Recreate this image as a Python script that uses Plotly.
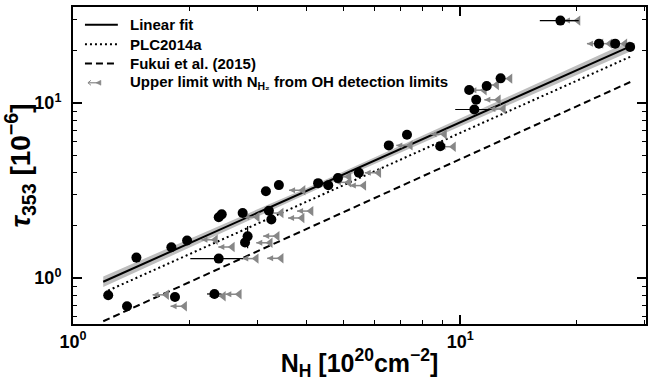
import plotly.graph_objects as go

# --- detections: N_H [1e20 cm^-2] vs tau_353 [1e-6] ---
nh_det = [1.233, 1.379, 1.458, 1.795, 1.971, 1.834, 2.319, 2.379, 2.782, 2.825,
          2.379, 2.422, 2.743, 3.150, 3.402, 3.206, 3.253, 4.296, 4.564, 4.834,
          5.475, 6.541, 7.289, 8.882, 10.88, 11.00, 10.55, 11.71, 12.72, 18.15,
          22.83, 25.14, 27.48]
tau_det = [0.798, 0.691, 1.310, 1.502, 1.641, 0.781, 0.812, 1.293, 1.599, 1.733,
           2.226, 2.314, 2.354, 3.135, 3.400, 2.426, 2.163, 3.489, 3.391, 3.729,
           4.001, 5.733, 6.592, 5.674, 9.19, 10.44, 11.89, 12.53, 13.85, 29.6,
           21.86, 21.86, 20.94]
nh_err = [0, 0, 0.03, 0, 0, 0, 0.10, 0.37, 0, 0,
          0, 0, 0, 0, 0, 0, 0, 0, 0, 0,
          0, 0, 0, 0, 1.17, 0, 0, 0, 0, 2.09,
          0, 0, 0]
tau_err = [0, 0, 0.08, 0, 0, 0, 0, 0, 0, 0.25,
           0, 0, 0, 0, 0, 0, 0, 0, 0, 0,
           0, 0, 0, 0, 0, 0, 0, 0, 0, 0,
           0, 0, 0]

# --- upper limits (N_H2 from OH detection limits) ---
nh_lim = [1.745, 1.942, 2.446, 2.689, 2.974, 3.449, 2.580, 3.232, 3.368, 2.333,
          2.992, 3.449, 3.906, 4.120, 3.929, 5.160, 5.160, 5.639, 6.164, 7.435,
          9.112, 9.611, 12.93, 12.55, 11.55, 12.42, 13.45, 20.15, 23.10, 24.36,
          26.63]
tau_lim = [0.803, 0.691, 0.788, 0.809, 1.293, 1.298, 1.506, 1.592, 1.738, 1.656,
           2.235, 2.354, 2.206, 2.416, 3.177, 3.797, 3.526, 3.378, 4.001, 5.733,
           6.635, 5.636, 9.25, 10.44, 11.85, 12.69, 13.80, 29.6, 21.86, 21.86,
           21.86]
arrow_ratio = 0.92  # left end of each limit arrow, relative to the limit

# --- relations (end points of straight lines in log-log space) ---
fit_x = [1.197, 27.5]
fit_y = [0.954, 21.1]
band_x = [1.197, 4.3, 27.5]
band_lo = [0.890, 3.24, 19.69]
band_hi = [1.022, 3.50, 22.61]
plc_x = [1.232, 27.5]
plc_y = [0.849, 18.4]
fukui_x = [1.197, 27.5]
fukui_y = [0.567, 13.2]

legend_labels = ["Linear fit", "PLC2014a", "Fukui et al. (2015)",
                 "Upper limit with N<sub>H₂</sub> from OH detection limits"]

FONT = "Liberation Sans"
GREY = "rgb(135,135,135)"
DOT = "2px,3px"
DASH = "7px,4px"

fig = go.Figure()

# confidence band of the fit
fig.add_trace(go.Scatter(x=band_x + band_x[::-1], y=band_hi + band_lo[::-1],
                         fill="toself", fillcolor="rgb(190,190,190)",
                         line=dict(width=0), mode="lines", hoverinfo="skip"))
fig.add_trace(go.Scatter(x=fit_x, y=fit_y, mode="lines",
                         line=dict(color="black", width=2)))
fig.add_trace(go.Scatter(x=plc_x, y=plc_y, mode="lines",
                         line=dict(color="black", width=2, dash=DOT)))
fig.add_trace(go.Scatter(x=fukui_x, y=fukui_y, mode="lines",
                         line=dict(color="black", width=2, dash=DASH)))

# upper-limit arrows
ax, ay = [], []
for x, y in zip(nh_lim, tau_lim):
    ax += [x * arrow_ratio, x, None]
    ay += [y, y, None]
fig.add_trace(go.Scatter(x=ax, y=ay, mode="lines", line=dict(color=GREY, width=1.5),
                         hoverinfo="skip"))
fig.add_trace(go.Scatter(x=[x * arrow_ratio for x in nh_lim], y=tau_lim, mode="markers",
                         marker=dict(symbol="arrow-left", size=6, color=GREY),
                         hoverinfo="skip"))
fig.add_trace(go.Scatter(x=nh_lim, y=tau_lim, mode="markers",
                         marker=dict(symbol="triangle-left", size=9, color=GREY)))

# detections
fig.add_trace(go.Scatter(x=nh_det, y=tau_det, mode="markers",
                         marker=dict(symbol="circle", size=10, color="black"),
                         error_x=dict(type="data", array=nh_err, color="black",
                                      thickness=1.2, width=0),
                         error_y=dict(type="data", array=tau_err, color="black",
                                      thickness=1.2, width=0)))

axis_common = dict(
    type="log", showline=True, linecolor="black", linewidth=2, mirror="allticks",
    ticks="inside", ticklen=9, tickwidth=1.5, tickcolor="black",
    showgrid=False, zeroline=False,
    tickfont=dict(family=FONT, size=18, color="black", weight="bold"),
)

fig.update_xaxes(**axis_common, range=[0, 1.48],
                 tickvals=[1, 10], ticktext=["10<sup>0</sup>", "10<sup>1</sup>"],
                 minor=dict(ticks="inside", ticklen=4, tickwidth=1.2, tickcolor="black",
                            tickvals=[2, 3, 4, 5, 6, 7, 8, 9, 20, 30]),
                 title=dict(text="N<sub>H</sub> [10<sup>20</sup>cm<sup>−2</sup>]",
                            font=dict(family=FONT, size=25, color="black", weight="bold"),
                            standoff=9))
fig.update_yaxes(**axis_common, range=[-0.262, 1.549],
                 tickvals=[1, 10], ticktext=["10<sup>0</sup>", "10<sup>1</sup>"],
                 minor=dict(ticks="inside", ticklen=4, tickwidth=1.2, tickcolor="black",
                            tickvals=[0.6, 0.7, 0.8, 0.9, 2, 3, 4, 5, 6, 7, 8, 9, 20, 30]),
                 ticklabelstandoff=6,
                 title=dict(text="<i>τ</i><sub>353</sub> [10<sup>−6</sup>]",
                            font=dict(family=FONT, size=28, color="black", weight="bold"),
                            standoff=2))

# legend, placed in the upper-left corner of the axes (pixel-based layout)
L, T, W, H = 73, 7, 575, 320
def px(x):
    return (x - L) / W
def py(y):
    return (T + H - y) / H

rows = [25, 44.5, 64, 83.5]
shapes = []
for y, dash in zip(rows[:3], [None, DOT, DASH]):
    shapes.append(dict(type="line", xref="paper", yref="paper",
                       x0=px(85), x1=px(118), y0=py(y), y1=py(y),
                       line=dict(color="black", width=2, dash=dash)))
# grey limit symbol: short arrow with a triangle tip
yg = rows[3]
shapes.append(dict(type="line", xref="paper", yref="paper",
                   x0=px(88), x1=px(100), y0=py(yg), y1=py(yg),
                   line=dict(color=GREY, width=1.2)))
shapes.append(dict(type="path", xref="paper", yref="paper",
                   path=f"M {px(96)} {py(yg)} L {px(101)} {py(yg - 2.5)} L {px(101)} {py(yg + 2.5)} Z",
                   fillcolor=GREY, line=dict(color=GREY, width=0.5)))
shapes.append(dict(type="path", xref="paper", yref="paper",
                   path=f"M {px(91)} {py(yg - 2.5)} L {px(88)} {py(yg)} L {px(91)} {py(yg + 2.5)}",
                   line=dict(color=GREY, width=1)))

annotations = [dict(x=px(128), y=py(y), xref="paper", yref="paper", text=t,
                    xanchor="left", yanchor="middle", showarrow=False,
                    font=dict(family=FONT, size=15, color="black", weight="bold"))
               for y, t in zip(rows, legend_labels)]

fig.update_layout(
    width=651, height=381,
    margin=dict(l=L, r=3, t=T, b=54),
    paper_bgcolor="white", plot_bgcolor="white",
    showlegend=False,
    shapes=shapes, annotations=annotations,
)

fig.write_html("out.html")
